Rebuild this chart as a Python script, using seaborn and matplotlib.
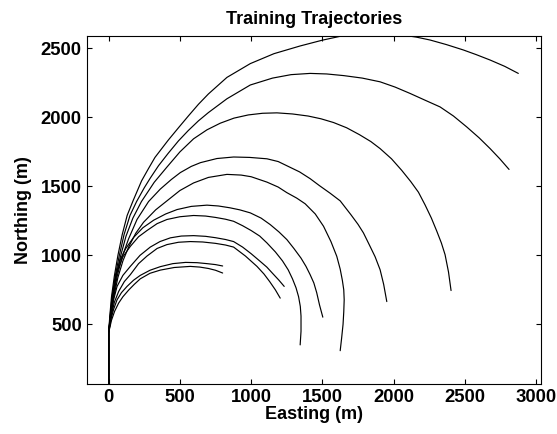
import numpy as np
import pandas as pd
import matplotlib
matplotlib.use("Agg")
import matplotlib.pyplot as plt
import seaborn as sns

# ---- data ----
t1_x = [0, 0, 8, 20, 40, 65, 95, 130, 173, 231, 280, 325, 418, 490, 559, 630, 700, 830, 994, 1160, 1344, 1500, 1625, 1750, 1850, 1950, 2057, 2160, 2256, 2370, 2489, 2580, 2677, 2780, 2875]
t1_y = [70, 440, 560, 700, 850, 1000, 1150, 1290, 1400, 1540, 1630, 1710, 1835, 1925, 2010, 2095, 2170, 2290, 2390, 2462, 2518, 2560, 2588, 2608, 2615, 2610, 2598, 2582, 2561, 2528, 2489, 2455, 2416, 2370, 2319]

t2_x = [0, 0, 10, 24, 46, 75, 108, 150, 196, 250, 292, 350, 418, 490, 559, 630, 700, 830, 994, 1150, 1280, 1414, 1530, 1650, 1780, 1905, 2010, 2115, 2220, 2326, 2420, 2513, 2600, 2677, 2745, 2810]
t2_y = [70, 440, 560, 700, 850, 1000, 1150, 1290, 1390, 1490, 1560, 1650, 1740, 1830, 1905, 1975, 2035, 2135, 2235, 2285, 2310, 2319, 2315, 2303, 2285, 2258, 2220, 2174, 2125, 2076, 2010, 1931, 1852, 1774, 1700, 1623]

t3_x = [0, 0, 12, 28, 52, 85, 122, 170, 230, 320, 409, 500, 596, 690, 783, 880, 980, 1080, 1181, 1290, 1400, 1490, 1578, 1670, 1760, 1840, 1905, 1985, 2057, 2120, 2174, 2221, 2265, 2303, 2335, 2361, 2385, 2403]
t3_y = [70, 440, 560, 700, 850, 1000, 1140, 1270, 1390, 1530, 1640, 1750, 1845, 1910, 1958, 1995, 2018, 2030, 2033, 2025, 2010, 1990, 1963, 1925, 1875, 1825, 1774, 1700, 1616, 1535, 1458, 1365, 1270, 1175, 1090, 1005, 880, 745]

t4_x = [0, 0, 14, 32, 60, 95, 140, 199, 280, 362, 440, 503, 580, 644, 760, 877, 990, 1111, 1190, 1260, 1340, 1414, 1480, 1555, 1625, 1700, 1750, 1788, 1830, 1870, 1905, 1930, 1952]
t4_y = [70, 440, 560, 700, 850, 990, 1120, 1260, 1390, 1480, 1550, 1600, 1645, 1672, 1702, 1713, 1710, 1700, 1680, 1645, 1605, 1556, 1505, 1450, 1395, 1295, 1225, 1163, 1075, 990, 896, 790, 665]

t5_x = [0, 0, 15, 36, 65, 100, 140, 190, 245, 330, 409, 500, 596, 700, 830, 930, 1000, 1111, 1190, 1250, 1320, 1379, 1450, 1508, 1560, 1601, 1625, 1640, 1650, 1653, 1650, 1645, 1635, 1625]
t5_y = [70, 440, 560, 700, 840, 960, 1060, 1160, 1240, 1330, 1395, 1470, 1525, 1565, 1587, 1582, 1570, 1531, 1495, 1455, 1415, 1374, 1300, 1211, 1100, 993, 900, 820, 750, 678, 590, 500, 400, 309]

t6_x = [0, 0, 12, 28, 50, 82, 120, 175, 240, 316, 400, 480, 580, 690, 770, 850, 920, 994, 1070, 1134, 1195, 1251, 1300, 1350, 1385, 1414, 1440, 1460, 1480, 1503]
t6_y = [70, 440, 560, 700, 850, 970, 1050, 1130, 1200, 1255, 1300, 1332, 1355, 1364, 1358, 1345, 1330, 1308, 1270, 1223, 1170, 1114, 1050, 980, 920, 860, 800, 730, 640, 552]

t7_x = [0, 0, 13, 30, 59, 100, 152, 210, 269, 340, 409, 500, 596, 680, 750, 820, 877, 940, 1000, 1060, 1111, 1170, 1220, 1260, 1290, 1315, 1333, 1345, 1350, 1350, 1344]
t7_y = [70, 440, 560, 700, 880, 990, 1065, 1135, 1180, 1230, 1260, 1280, 1289, 1285, 1275, 1262, 1247, 1215, 1180, 1140, 1090, 1025, 960, 895, 830, 765, 700, 630, 560, 450, 351]

t8_x = [0, 0, 16, 35, 59, 100, 152, 220, 292, 360, 433, 510, 596, 680, 750, 820, 877, 940, 1000, 1064, 1110, 1150, 1195, 1232]
t8_y = [70, 440, 560, 680, 775, 855, 920, 1000, 1060, 1100, 1127, 1140, 1143, 1138, 1128, 1115, 1100, 1060, 1012, 956, 915, 870, 820, 775]

t9_x = [0, 0, 18, 40, 70, 110, 152, 210, 269, 340, 409, 490, 573, 660, 750, 820, 877, 960, 1041, 1090, 1130, 1170, 1204]
t9_y = [70, 440, 560, 660, 738, 810, 860, 940, 995, 1050, 1078, 1095, 1100, 1097, 1087, 1075, 1060, 995, 920, 865, 810, 750, 690]

t10_x = [0, 0, 17, 35, 59, 90, 129, 175, 222, 290, 362, 450, 540, 620, 690, 750, 800]
t10_y = [70, 440, 540, 610, 678, 730, 775, 820, 855, 892, 918, 940, 949, 947, 940, 933, 923]

t11_x = [0, 0, 20, 42, 70, 100, 140, 180, 222, 290, 362, 460, 573, 640, 700, 750, 800]
t11_y = [70, 440, 530, 595, 654, 700, 748, 790, 830, 870, 893, 912, 920, 915, 905, 892, 872]

x_ticks = [0, 500, 1000, 1500, 2000, 2500, 3000]
y_ticks = [500, 1000, 1500, 2000, 2500]

title = "Training Trajectories"
x_label = "Easting (m)"
y_label = "Northing (m)"

trajs = [(t1_x, t1_y), (t2_x, t2_y), (t3_x, t3_y), (t4_x, t4_y), (t5_x, t5_y),
         (t6_x, t6_y), (t7_x, t7_y), (t8_x, t8_y), (t9_x, t9_y), (t10_x, t10_y), (t11_x, t11_y)]

frames = []
for i, (xs, ys) in enumerate(trajs):
    frames.append(pd.DataFrame({"x": xs, "y": ys, "traj": i}))
df = pd.concat(frames, ignore_index=True)

# ---- styling ----
sns.set_style("ticks")
plt.rcParams["font.family"] = ["Liberation Sans", "DejaVu Sans"]
plt.rcParams["font.weight"] = "bold"
plt.rcParams["text.color"] = "black"
plt.rcParams["axes.labelcolor"] = "black"

fig = plt.figure(figsize=(5.57, 4.34), dpi=100)
ax = fig.add_axes([0.1567, 0.116, 0.814, 0.801])

sns.lineplot(data=df, x="x", y="y", units="traj", estimator=None, sort=False,
             color="black", linewidth=0.85, ax=ax, legend=False)

ax.set_xlim(-150, 3032)
ax.set_ylim(70, 2590)
ax.set_xticks(x_ticks)
ax.set_yticks(y_ticks)
ax.tick_params(direction="in", top=True, right=True, length=3.3, width=0.8,
               labelsize=13.3, colors="black", pad=4)
for lab in ax.get_xticklabels() + ax.get_yticklabels():
    lab.set_fontweight("bold")
for s in ax.spines.values():
    s.set_color("black")
    s.set_linewidth(0.8)

ax.set_title(title, fontsize=13, fontweight="bold", pad=9, color="black")
ax.set_xlabel(x_label, fontsize=13, fontweight="bold", labelpad=0, color="black")
ax.set_ylabel(y_label, fontsize=13, fontweight="bold", labelpad=6, color="black")

fig.savefig("out.png", dpi=100, facecolor="white")
